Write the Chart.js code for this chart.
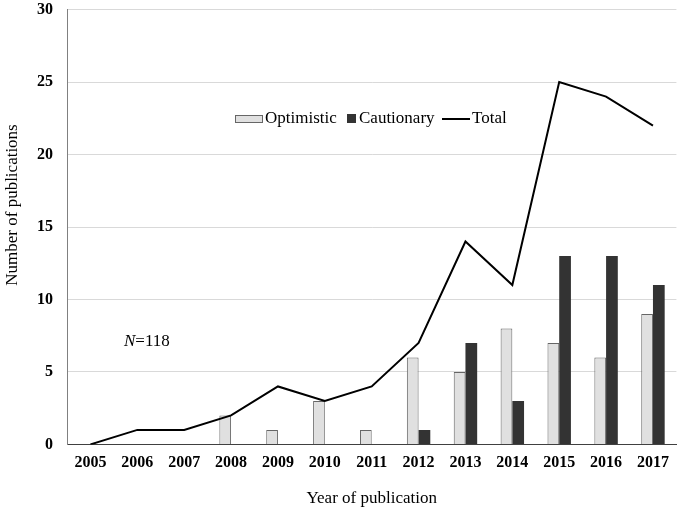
<!DOCTYPE html>
<html>
<head>
<meta charset="utf-8">
<script src="https://cdn.jsdelivr.net/npm/chart.js@4"></script>
<style>
    html, body { margin: 0; padding: 0; background: #ffffff; }
    #wrap { width: 678px; height: 515px; }
</style>
</head>
<body>
<div id="wrap"><canvas id="pubChart" width="678" height="515"></canvas></div>
<script>
// Publications per year
const years = ['2005', '2006', '2007', '2008', '2009', '2010', '2011', '2012', '2013', '2014', '2015', '2016', '2017'];
const optimistic = [0, 0, 0, 2, 1, 3, 1, 6, 5, 8, 7, 6, 9];
const cautionary = [0, 0, 0, 0, 0, 0, 0, 1, 7, 3, 13, 13, 11];
const total = [0, 1, 1, 2, 4, 3, 4, 7, 14, 11, 25, 24, 22];
const yTicks = [0, 5, 10, 15, 20, 25, 30];
const sampleSize = 118;
const yTitle = 'Number of publications';

const serif = '"Liberation Serif", "Times New Roman", serif';

// Legend drawn inside the plot, the N= note and the y axis title (sits above centre, as in the original)
const insideNotes = {
    id: 'insideNotes',
    afterDraw(chart) {
        const ctx = chart.ctx;
        const ds = chart.data.datasets;
        ctx.save();
        ctx.font = '17px ' + serif;
        ctx.textBaseline = 'middle';
        ctx.fillStyle = '#000';
        const y = 119;

        // Optimistic
        ctx.fillStyle = ds[0].backgroundColor;
        ctx.strokeStyle = ds[0].borderColor;
        ctx.lineWidth = 1;
        ctx.fillRect(235.5, 115.5, 27, 7);
        ctx.strokeRect(235.5, 115.5, 27, 7);
        ctx.fillStyle = '#000';
        ctx.textAlign = 'left';
        ctx.fillText(ds[0].label, 265, y);

        // Cautionary
        ctx.fillStyle = ds[1].backgroundColor;
        ctx.fillRect(347, 114, 9, 9);
        ctx.fillStyle = '#000';
        ctx.fillText(ds[1].label, 359, y);

        // Total
        ctx.strokeStyle = ds[2].borderColor;
        ctx.lineWidth = 2;
        ctx.beginPath();
        ctx.moveTo(442, y);
        ctx.lineTo(470, y);
        ctx.stroke();
        ctx.fillText(ds[2].label, 472, y);

        // N=118
        ctx.font = 'italic 17px ' + serif;
        ctx.fillText('N', 124, 342);
        const nw = ctx.measureText('N').width;
        ctx.font = '17px ' + serif;
        ctx.fillText('=' + sampleSize, 124 + nw, 342);

        // y axis title
        ctx.translate(13, 205);
        ctx.rotate(-Math.PI / 2);
        ctx.textAlign = 'center';
        ctx.fillText(yTitle, 0, 0);
        ctx.restore();
    }
};

new Chart(document.getElementById('pubChart'), {
    type: 'bar',
    data: {
        labels: years,
        datasets: [
            {
                label: 'Optimistic',
                data: optimistic,
                backgroundColor: '#e0e0e0',
                borderColor: '#666666',
                borderWidth: 1,
                borderSkipped: 'bottom',
                barPercentage: 1,
                categoryPercentage: 0.5,
                order: 1
            },
            {
                label: 'Cautionary',
                data: cautionary,
                backgroundColor: '#333333',
                borderColor: '#333333',
                borderWidth: 0,
                barPercentage: 1,
                categoryPercentage: 0.5,
                order: 1
            },
            {
                type: 'line',
                label: 'Total',
                data: total,
                borderColor: '#000000',
                backgroundColor: '#000000',
                borderWidth: 2,
                pointRadius: 0,
                tension: 0,
                fill: false,
                order: 0
            }
        ]
    },
    options: {
        responsive: false,
        animation: false,
        layout: {
            padding: { top: 0, right: 1, left: 37, bottom: 6 }
        },
        plugins: {
            legend: { display: false },
            tooltip: { enabled: false }
        },
        scales: {
            x: {
                grid: { display: false, drawTicks: false },
                border: { color: '#404040', width: 1 },
                ticks: {
                    color: '#000',
                    padding: 9,
                    maxRotation: 0,
                    font: { family: serif, size: 16, weight: 'bold' }
                },
                title: {
                    display: true,
                    text: 'Year of publication',
                    color: '#000',
                    padding: { top: 7, bottom: 0 },
                    font: { family: serif, size: 17 }
                }
            },
            y: {
                min: 0,
                max: 30,
                afterBuildTicks(axis) {
                    axis.ticks = yTicks.map(v => ({ value: v }));
                },
                // tick marks kept invisible so they only make the gap to the labels
                grid: { color: '#d9d9d9', drawTicks: true, tickLength: 14, tickColor: 'rgba(0,0,0,0)' },
                border: { color: '#808080', width: 1 },
                ticks: {
                    color: '#000',
                    padding: 0,
                    font: { family: serif, size: 16, weight: 'bold' }
                },
                title: { display: false }
            }
        }
    },
    plugins: [insideNotes]
});
</script>
</body>
</html>
